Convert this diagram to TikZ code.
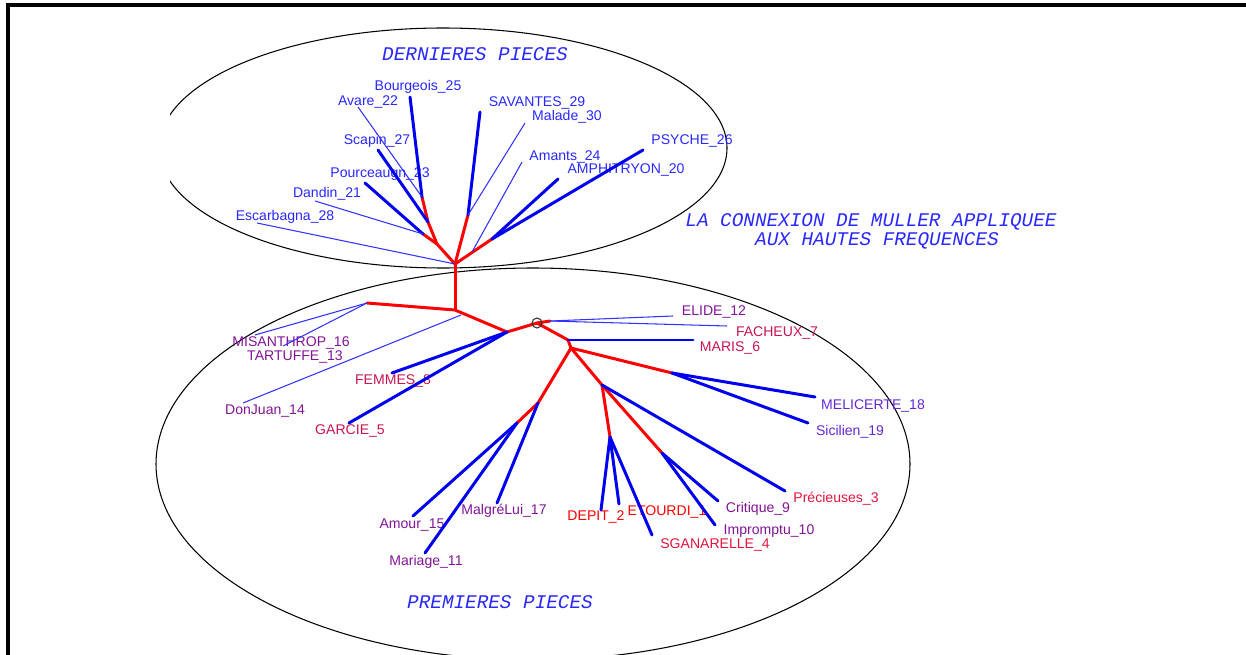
\documentclass[tikz,border=0pt]{standalone}
\usepackage{fontspec}
\setmainfont{Liberation Sans}
\newfontfamily\monofont{Liberation Mono}
\definecolor{titleblue}{RGB}{40,40,255}
\definecolor{upblue}{RGB}{40,40,255}
\definecolor{linkblue}{RGB}{0,0,240}
\definecolor{thinblue}{RGB}{50,50,255}
\definecolor{purp}{RGB}{130,20,150}
\definecolor{crim}{RGB}{200,20,80}
\definecolor{rosy}{RGB}{225,20,60}
\definecolor{vio}{RGB}{100,40,210}
\definecolor{redtxt}{RGB}{255,0,0}
\tikzstyle{branch} = [draw=red, line width=1.7pt, line cap=round, line join=round]
\tikzstyle{leafline} = [draw=linkblue, line width=1.7pt, line cap=round]
\tikzstyle{thinline} = [draw=thinblue, line width=0.6pt]
\tikzstyle{lbl} = [inner sep=0pt, font=\fontsize{8}{9}\selectfont]
\tikzstyle{heading} = [inner sep=0pt, text=titleblue,
    font=\monofont\itshape\fontsize{11}{13}\selectfont]
\tikzstyle{group} = [draw=black, line width=0.6pt]

\begin{document}
\begin{tikzpicture}[x=0.02cm, y=-0.02cm]
    \useasboundingbox (0,0) rectangle (1246,655);
    % frame
    \draw [line width=2pt] (8,655) -- (8,5) -- (1246,5);
    % the two groups
    \begin{scope}
        \clip (170,0) rectangle (1246,655);
        \draw [group] (443,148) ellipse [x radius=284, y radius=120];
    \end{scope}
    \begin{scope}
        \clip (0,0) rectangle (1246,655);
        \draw [group] (533,464) ellipse [x radius=377, y radius=196];
    \end{scope}
    \node [heading] (last) at (475,54) {DERNIERES PIECES};
    \node [heading] (first) at (500,602) {PREMIERES PIECES};
    \node [heading] (muller) at (871,222) {LA CONNEXION DE MULLER APPLIQUEE};
    \node [heading] (freq) at (877,241) {AUX HAUTES FREQUENCES};

    % inner junctions
    \coordinate (top) at (455,264);
    \coordinate (ua) at (437,244);
    \coordinate (ub) at (428,222);
    \coordinate (uc) at (422,197);
    \coordinate (ud) at (423,234);
    \coordinate (ue) at (468,215);
    \coordinate (uf) at (492,239);
    \coordinate (ug) at (472,252);
    \coordinate (mid) at (455,310);
    \coordinate (la) at (367,303);
    \coordinate (lj) at (461,315);
    \coordinate (lb) at (507,332);
    \coordinate (lc) at (537,323);
    \coordinate (ld) at (550,321);
    \coordinate (le) at (568,340);
    \coordinate (lf) at (571,348);
    \coordinate (lg) at (672,373);
    \coordinate (lh) at (602,385);
    \coordinate (li) at (610,437);
    \coordinate (lk) at (662,453);
    \coordinate (ll) at (538,403);
    \coordinate (lm) at (517,423);

    % leaf ends
    \coordinate (bourgeois) at (410,97);
    \coordinate (avare) at (358,107);
    \coordinate (scapin) at (378,150);
    \coordinate (pourceaugn) at (365,183);
    \coordinate (dandin) at (315,201);
    \coordinate (escarbagna) at (257,223);
    \coordinate (savantes) at (480,112);
    \coordinate (malade) at (525,123);
    \coordinate (amants) at (522,162);
    \coordinate (amphitryon) at (558,179);
    \coordinate (psyche) at (643,150);
    \coordinate (misanthrop) at (255,335);
    \coordinate (tartuffe) at (283,346);
    \coordinate (donjuan) at (243,403);
    \coordinate (femmes) at (392,373);
    \coordinate (garcie) at (349,423);
    \coordinate (elide) at (673,316);
    \coordinate (facheux) at (727,326);
    \coordinate (maris) at (693,340);
    \coordinate (melicerte) at (815,397);
    \coordinate (sicilien) at (808,423);
    \coordinate (precieuses) at (785,491);
    \coordinate (depit) at (601,510);
    \coordinate (etourdi) at (619,504);
    \coordinate (sganarelle) at (652,535);
    \coordinate (critique) at (718,501);
    \coordinate (impromptu) at (715,525);
    \coordinate (malgrelui) at (497,503);
    \coordinate (amour) at (413,516);
    \coordinate (mariage) at (425,553);

    % labels
    \node [lbl, text=upblue] (t25) at (418,87) {Bourgeois\_25};
    \node [lbl, text=upblue] (t22) at (368,102) {Avare\_22};
    \node [lbl, text=upblue] (t27) at (377,141) {Scapin\_27};
    \node [lbl, text=upblue] (t23) at (380,174) {Pourceaugn\_23};
    \node [lbl, text=upblue] (t21) at (327,194) {Dandin\_21};
    \node [lbl, text=upblue] (t28) at (285,217) {Escarbagna\_28};
    \node [lbl, text=upblue] (t29) at (537,103) {SAVANTES\_29};
    \node [lbl, text=upblue] (t30) at (567,117) {Malade\_30};
    \node [lbl, text=upblue] (t24) at (565,157) {Amants\_24};
    \node [lbl, text=upblue] (t20) at (626,170) {AMPHITRYON\_20};
    \node [lbl, text=upblue] (t26) at (692,141) {PSYCHE\_26};
    \node [lbl, text=purp] (t16) at (291,343) {MISANTHROP\_16};
    \node [lbl, text=purp] (t13) at (295,357) {TARTUFFE\_13};
    \node [lbl, text=purp] (t14) at (265,411) {DonJuan\_14};
    \node [lbl, text=crim] (t8) at (393,381) {FEMMES\_8};
    \node [lbl, text=crim] (t5) at (350,431) {GARCIE\_5};
    \node [lbl, text=purp] (t12) at (714,312) {ELIDE\_12};
    \node [lbl, text=crim] (t7) at (777,333) {FACHEUX\_7};
    \node [lbl, text=crim] (t6) at (730,348) {MARIS\_6};
    \node [lbl, text=vio] (t18) at (873,406) {MELICERTE\_18};
    \node [lbl, text=vio] (t19) at (850,432) {Sicilien\_19};
    \node [lbl, text=rosy] (t3) at (836,499) {Précieuses\_3};
    \node [lbl, text=redtxt] (t2) at (596,517) {DEPIT\_2};
    \node [lbl, text=redtxt] (t1) at (667,512) {ETOURDI\_1};
    \node [lbl, text=rosy] (t4) at (715,545) {SGANARELLE\_4};
    \node [lbl, text=purp] (t9) at (758,509) {Critique\_9};
    \node [lbl, text=purp] (t10) at (769,531) {Impromptu\_10};
    \node [lbl, text=purp] (t17) at (504,511) {MalgréLui\_17};
    \node [lbl, text=purp] (t15) at (412,525) {Amour\_15};
    \node [lbl, text=purp] (t11) at (426,562) {Mariage\_11};

    % red inner branches
    \draw [branch] (top) -- (ua) -- (ub) -- (uc);
    \draw [branch] (ua) -- (ud);
    \draw [branch] (top) -- (ue);
    \draw [branch] (top) -- (uf);
    \draw [branch] (top) -- (mid);
    \draw [branch] (mid) -- (la);
    \draw [branch] (mid) -- (lb) -- (lc) -- (ld);
    \draw [branch] (lc) -- (le) -- (lf);
    \draw [branch] (lf) -- (lg);
    \draw [branch] (lf) -- (lh) -- (li);
    \draw [branch] (lh) -- (lk);
    \draw [branch] (lf) -- (ll) -- (lm);
    \draw [line width=0.6pt, draw=black!80] (lc) circle [radius=5];

    % thick leaves
    \draw [leafline] (uc) -- (bourgeois);
    \draw [leafline] (ub) -- (scapin);
    \draw [leafline] (ud) -- (pourceaugn);
    \draw [leafline] (ue) -- (savantes);
    \draw [leafline] (uf) -- (amphitryon);
    \draw [leafline] (uf) -- (psyche);
    \draw [leafline] (lb) -- (femmes);
    \draw [leafline] (lb) -- (garcie);
    \draw [leafline] (le) -- (maris);
    \draw [leafline] (lg) -- (melicerte);
    \draw [leafline] (lg) -- (sicilien);
    \draw [leafline] (lh) -- (precieuses);
    \draw [leafline] (li) -- (depit);
    \draw [leafline] (li) -- (etourdi);
    \draw [leafline] (li) -- (sganarelle);
    \draw [leafline] (lk) -- (critique);
    \draw [leafline] (lk) -- (impromptu);
    \draw [leafline] (ll) -- (malgrelui);
    \draw [leafline] (lm) -- (amour);
    \draw [leafline] (lm) -- (mariage);

    % thin leaves
    \draw [thinline] (uc) -- (avare);
    \draw [thinline] (ud) -- (dandin);
    \draw [thinline] (top) -- (escarbagna);
    \draw [thinline] (ue) -- (malade);
    \draw [thinline] (ug) -- (amants);
    \draw [thinline] (la) -- (misanthrop);
    \draw [thinline] (la) -- (tartuffe);
    \draw [thinline] (lj) -- (donjuan);
    \draw [thinline] (ld) -- (elide);
    \draw [thinline] (ld) -- (facheux);
\end{tikzpicture}
\end{document}
